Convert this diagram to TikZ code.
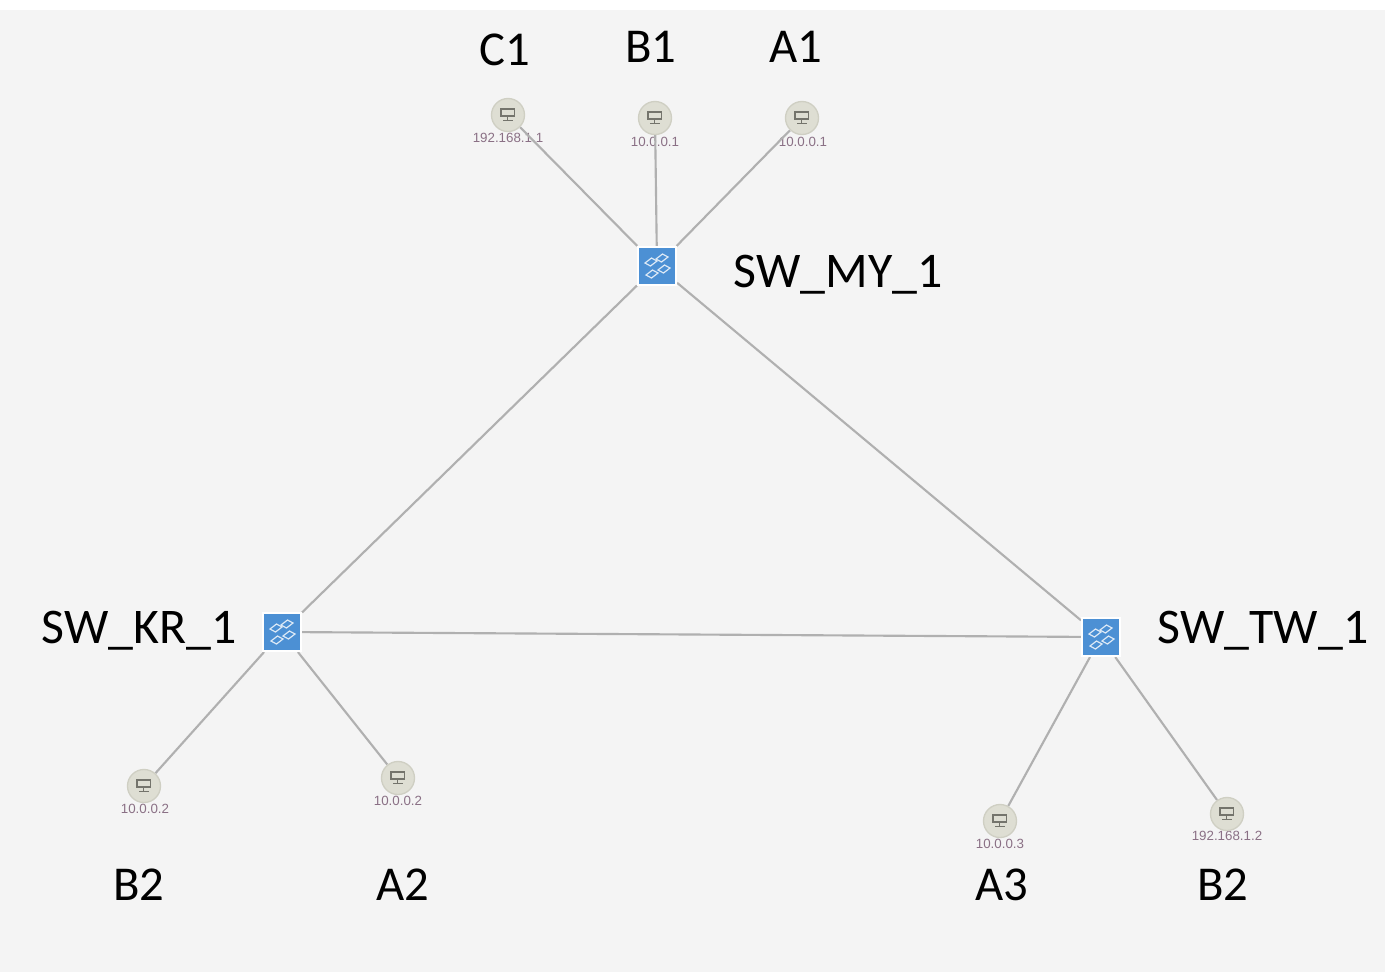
\documentclass[tikz,border=0pt]{standalone}
\usepackage{fontspec}
\setmainfont{Carlito}
\newfontfamily\ipfont{Liberation Sans}
\definecolor{panel}{HTML}{F4F4F4}
\definecolor{linkgray}{HTML}{B0B0B0}
\definecolor{hostfill}{HTML}{DEDED3}
\definecolor{hostedge}{HTML}{CFCFC3}
\definecolor{hosticon}{HTML}{74746C}
\definecolor{swblue}{HTML}{4C90D4}
\definecolor{swicon}{HTML}{DCE9F6}
\definecolor{iptext}{HTML}{8A7085}
\pgfdeclarelayer{panellayer}
\pgfdeclarelayer{iplayer}
\pgfdeclarelayer{linklayer}
\pgfsetlayers{panellayer,iplayer,linklayer,main}
\tikzset{
  hostnode/.style={circle,draw=hostedge,line width=1pt,fill=hostfill,minimum size=33*0.75pt,inner sep=0pt,
    path picture={
      \begin{scope}[shift={(path picture bounding box.center)},draw=hosticon,line width=0.9pt]
        \draw (-7,-6) rectangle (6.5,1);
        \draw (-0.25,1) -- (-0.25,5);
        \draw (-5,5.5) -- (4.5,5.5);
      \end{scope}
    }},
  swnode/.style={rectangle,draw=white,line width=1.6pt,fill=swblue,minimum size=38*0.75pt,inner sep=0pt,
    path picture={
      \begin{scope}[shift={(path picture bounding box.center)},draw=swicon,line width=0.9pt]
        \foreach \dx/\dy in {-6/-4,5/-8,7/3,-5/8}{
          \draw (\dx-6,\dy+1) -- (\dx+0.5,\dy-4) -- (\dx+6,\dy-1) -- (\dx-0.5,\dy+4) -- cycle;
        }
      \end{scope}
    }},
  link/.style={draw=linkgray,line width=1.6pt},
  iplabel/.style={font=\ipfont\fontsize{10pt}{10pt}\selectfont,text=iptext,inner sep=0pt},
  biglabel/.style={font=\fontsize{36.5pt}{36.5pt}\selectfont,text=black,inner sep=0pt,anchor=base},
  swlabel/.style={font=\fontsize{37.4pt}{37.4pt}\selectfont,text=black,inner sep=0pt,anchor=base}
}
\begin{document}
\begin{tikzpicture}[x=0.75pt,y=-0.75pt]
\useasboundingbox (0,0) rectangle (1400,972);
\begin{pgfonlayer}{panellayer}
  \fill[white] (0,0) rectangle (1400,972);
  \fill[panel] (0,10) rectangle (1385,972);
\end{pgfonlayer}
% switches
\node[swnode] (my) at (657,266) {};
\node[swnode] (kr) at (282,632) {};
\node[swnode] (tw) at (1101,637) {};
% hosts
\node[hostnode] (c1) at (508,115) {};
\node[hostnode] (b1) at (655,118) {};
\node[hostnode] (a1) at (802,118) {};
\node[hostnode] (b2l) at (144,786) {};
\node[hostnode] (a2) at (398,778) {};
\node[hostnode] (a3) at (1000,821) {};
\node[hostnode] (b2r) at (1227,814) {};
% IP labels
\begin{pgfonlayer}{iplayer}
  \node[iplabel] (ipc1) at (508,137.5) {192.168.1.1};
  \node[iplabel] (ipb1) at (655,141.5) {10.0.0.1};
  \node[iplabel] (ipa1) at (803,141.5) {10.0.0.1};
  \node[iplabel] (ipb2l) at (145,808.5) {10.0.0.2};
  \node[iplabel] (ipa2) at (398,800.5) {10.0.0.2};
  \node[iplabel] (ipa3) at (1000,843.5) {10.0.0.3};
  \node[iplabel] (ipb2r) at (1227,835.5) {192.168.1.2};
\end{pgfonlayer}
% links
\begin{pgfonlayer}{linklayer}
  \draw[link] (my) -- (kr);
  \draw[link] (my) -- (tw);
  \draw[link] (kr) -- (tw);
  \draw[link] (my) -- (c1);
  \draw[link] (my) -- (b1);
  \draw[link] (my) -- (a1);
  \draw[link] (kr) -- (b2l);
  \draw[link] (kr) -- (a2);
  \draw[link] (tw) -- (a3);
  \draw[link] (tw) -- (b2r);
\end{pgfonlayer}
% big labels
\node[biglabel] (lc1) at (505,65) {C1};
\node[biglabel] (lb1) at (651,62) {B1};
\node[biglabel] (la1) at (796,62) {A1};
\node[swlabel] (lmy) at (838,287) {SW\_MY\_1};
\node[swlabel] (lkr) at (139,643) {SW\_KR\_1};
\node[swlabel] (ltw) at (1263,643) {SW\_TW\_1};
\node[biglabel] (lb2l) at (139,900) {B2};
\node[biglabel] (la2) at (403,900) {A2};
\node[biglabel] (la3) at (1002,900) {A3};
\node[biglabel] (lb2r) at (1223,900) {B2};
\end{tikzpicture}
\end{document}
